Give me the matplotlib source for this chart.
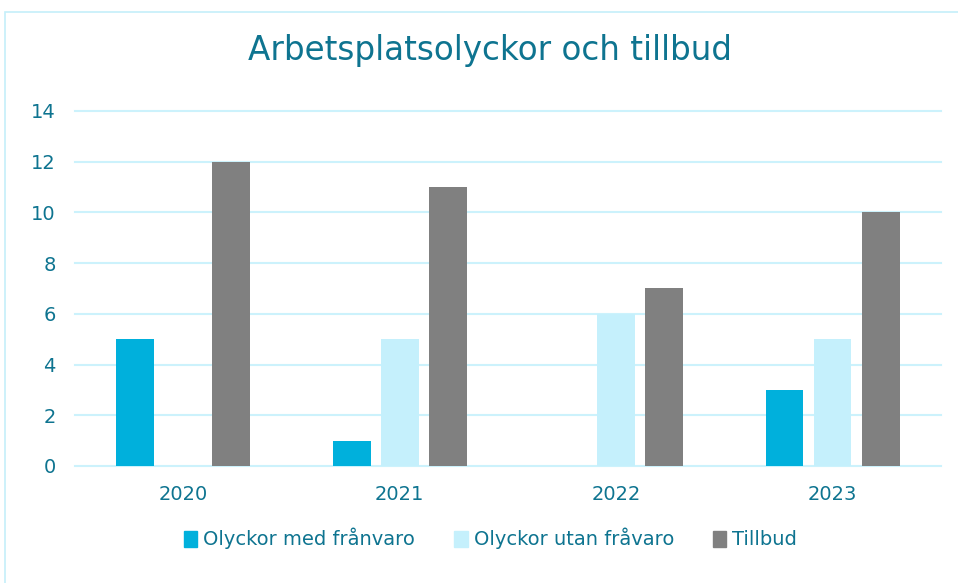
import numpy as np
import matplotlib
matplotlib.use("Agg")
import matplotlib.pyplot as plt
from matplotlib.patches import Rectangle, Patch

years = ["2020", "2021", "2022", "2023"]
med_franvaro = [5, 1, 0, 3]
utan_franvaro = [0, 5, 6, 5]
tillbud = [12, 11, 7, 10]
series_names = ["Olyckor med frånvaro", "Olyckor utan fråvaro", "Tillbud"]
yticks = [0, 2, 4, 6, 8, 10, 12, 14]

colors = ["#00B0DC", "#C5F0FC", "#808080"]
text_col = "#0E7490"
grid_col = "#CCF2FC"

plt.rcParams['font.family'] = ['DejaVu Sans']

fig = plt.figure(figsize=(9.58, 5.83), dpi=100)
ax = fig.add_axes([0.0783, 0.2007, 0.9037, 0.609])

x = np.arange(len(years))
w = 0.175
off = 0.222
for i, vals in enumerate([med_franvaro, utan_franvaro, tillbud]):
    ax.bar(x + (i - 1) * off, vals, width=w, color=colors[i], zorder=3)

ax.set_xlim(-0.5, 3.5)
ax.set_ylim(0, 14)
ax.set_yticks(yticks)
ax.set_xticks(x)
ax.set_xticklabels(years)
ax.grid(axis='y', color=grid_col, linewidth=1.5, zorder=0)
for gl in ax.get_ygridlines():
    gl.set_clip_on(False)
for s in ax.spines.values():
    s.set_visible(False)
ax.tick_params(length=0, colors=text_col, labelsize=14)
ax.tick_params(axis='x', pad=14)
ax.tick_params(axis='y', pad=14)

fig.text(0.512, 0.914, "Arbetsplatsolyckor och tillbud", ha='center', va='center',
         fontsize=23.5, color=text_col)

handles = [Patch(color=c) for c in colors]
leg = fig.legend(handles, series_names, loc='center', bbox_to_anchor=(0.512, 0.076),
                 ncol=3, frameon=False, handlelength=0.7, handleheight=0.9,
                 handletextpad=0.3, columnspacing=2.0, prop={'size': 14})
for t in leg.get_texts():
    t.set_color(text_col)

fig.patches.append(Rectangle((5 / 958, -0.1), 1.1, (583 - 12) / 583 + 0.1, transform=fig.transFigure,
                             fill=False, edgecolor="#C5EFFA", linewidth=1.2))

fig.savefig("out.png", dpi=100)
